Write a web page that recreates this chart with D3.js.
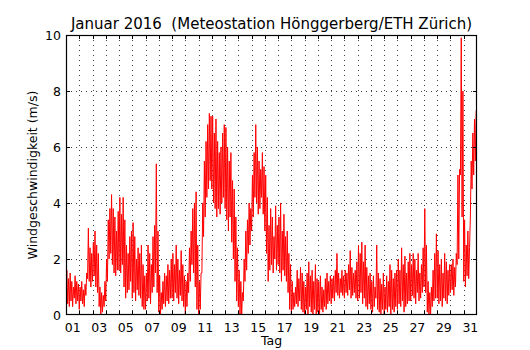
<!DOCTYPE html>
<html>
<head>
<meta charset="utf-8">
<script src="https://cdn.jsdelivr.net/npm/d3@7/dist/d3.min.js"></script>
<style>
  body { margin: 0; background: #fff; }
  text { font-family: "DejaVu Sans", sans-serif; fill: #000; white-space: pre; }
</style>
</head>
<body>
<div id="graph"></div>
<script>
var titleText = "Januar 2016  (Meteostation Hönggerberg/ETH Zürich)";
var xLabel = "Tag";
var yLabel = "Windgeschwindigkeit (m/s)";
var dayLabels = ["01","03","05","07","09","11","13","15","17","19","21","23","25","27","29","31"];
var yTicks = [0, 2, 4, 6, 8, 10];

// wind speed, 3-hour bins (8 per day): upper and lower values
var windHi = [
  1.6, 1.3, 1.5, 1.2, 1.0, 1.4, 1.2, 1.1,   // 01
  1.0, 1.2, 0.9, 1.1, 1.5, 3.1, 2.4, 2.2,   // 02
  2.6, 3.0, 2.5, 2.2, 1.0, 0.8, 0.7, 1.2,   // 03
  2.0, 3.4, 3.8, 4.3, 3.8, 3.5, 3.0, 3.7,   // 04
  4.2, 3.6, 4.2, 3.4, 2.5, 2.2, 2.8, 3.0,   // 05
  3.3, 2.8, 2.0, 2.4, 2.2, 2.5, 1.8, 1.4,   // 06
  1.5, 2.5, 2.2, 1.8, 2.8, 3.2, 5.4, 3.0,   // 07
  1.4, 0.8, 1.2, 1.5, 1.4, 1.8, 1.6, 2.0,   // 08
  2.2, 1.8, 2.5, 2.0, 1.6, 2.3, 1.8, 1.4,   // 09
  1.2, 1.5, 2.4, 3.0, 3.8, 4.0, 4.4, 2.5,   // 10
  1.2, 1.5, 4.0, 5.5, 6.2, 6.8, 7.2, 7.1,   // 11
  7.1, 6.5, 7.0, 6.2, 5.8, 6.0, 6.5, 6.8,   // 12
  6.7, 6.0, 5.5, 5.8, 4.8, 4.5, 3.5, 2.4,   // 13
  1.6, 1.2, 0.8, 2.0, 3.0, 3.4, 4.0, 3.8,   // 14
  5.0, 5.8, 6.8, 6.0, 5.5, 5.2, 5.8, 5.3,   // 15
  5.0, 4.2, 3.2, 3.8, 3.5, 2.8, 3.9, 3.2,   // 16
  3.5, 4.0, 3.0, 3.6, 2.8, 3.0, 2.2, 1.8,   // 17
  1.2, 0.8, 1.0, 1.6, 1.3, 1.7, 1.5, 1.2,   // 18
  1.0, 1.5, 1.9, 1.4, 1.6, 1.2, 1.8, 1.3,   // 19
  1.2, 1.4, 1.0, 0.9, 1.3, 1.5, 1.2, 1.4,   // 20
  1.3, 1.4, 1.6, 2.2, 1.5, 1.3, 1.6, 1.4,   // 21
  1.6, 1.5, 1.8, 2.3, 1.7, 1.5, 1.6, 1.9,   // 22
  2.5, 2.2, 2.6, 1.9, 2.5, 1.7, 1.4, 1.5,   // 23
  1.2, 1.4, 1.0, 2.5, 1.5, 1.3, 1.1, 1.5,   // 24
  1.0, 1.4, 1.2, 1.8, 1.6, 1.3, 1.5, 1.6,   // 25
  2.0, 1.6, 2.4, 1.8, 2.1, 1.5, 1.9, 2.2,   // 26
  1.8, 2.2, 2.0, 1.6, 2.2, 1.5, 1.8, 2.4,   // 27
  3.8, 2.5, 1.2, 0.8, 1.0, 1.6, 2.2, 2.9,   // 28
  2.3, 1.8, 2.0, 1.5, 2.2, 1.9, 1.6, 1.8,   // 29
  1.8, 2.0, 1.7, 2.2, 5.0, 5.2, 9.9, 8.0,   // 30
  3.4, 2.5, 3.0, 2.4, 5.5, 6.5, 7.0, 7.3    // 31
];
var windLo = [
  0.2, 0.4, 0.3, 0.5, 0.3, 0.6, 0.4, 0.5,   // 01
  0.2, 0.5, 0.4, 0.3, 0.7, 1.3, 1.2, 1.0,   // 02
  1.2, 1.4, 1.0, 0.8, 0.3, 0.0, 0.1, 0.3,   // 03
  0.5, 1.2, 2.0, 2.2, 1.8, 1.5, 1.4, 1.6,   // 04
  1.6, 1.5, 1.8, 1.0, 0.6, 0.8, 0.9, 1.2,   // 05
  0.6, 0.8, 0.5, 0.9, 0.7, 0.6, 0.3, 0.2,   // 06
  0.2, 0.5, 0.6, 0.4, 0.8, 1.0, 1.5, 0.8,   // 07
  0.1, 0.0, 0.2, 0.4, 0.3, 0.5, 0.4, 0.6,   // 08
  0.6, 0.5, 0.8, 0.6, 0.4, 0.7, 0.5, 0.3,   // 09
  0.0, 0.3, 0.8, 1.2, 1.8, 1.5, 1.0, 0.2,   // 10
  0.0, 0.2, 1.5, 2.8, 3.5, 4.2, 4.5, 4.8,   // 11
  4.5, 4.0, 3.8, 3.5, 3.8, 3.6, 4.0, 4.2,   // 12
  3.8, 3.4, 3.0, 3.5, 2.6, 2.0, 1.2, 0.5,   // 13
  0.3, 0.0, 0.0, 0.5, 1.2, 1.6, 2.2, 2.5,   // 14
  3.0, 3.5, 4.2, 4.0, 3.6, 3.8, 4.2, 3.6,   // 15
  3.0, 2.2, 1.2, 1.6, 1.8, 1.5, 2.0, 1.6,   // 16
  1.8, 1.5, 1.2, 1.6, 1.4, 1.2, 0.8, 0.2,   // 17
  0.0, 0.2, 0.3, 0.4, 0.3, 0.5, 0.2, 0.1,   // 18
  0.0, 0.2, 0.0, 0.3, 0.1, 0.0, 0.2, 0.0,   // 19
  0.1, 0.0, 0.2, 0.1, 0.3, 0.2, 0.4, 0.5,   // 20
  0.4, 0.6, 0.5, 0.8, 0.7, 0.6, 0.8, 0.7,   // 21
  0.6, 0.8, 0.7, 0.9, 0.6, 0.7, 0.8, 0.6,   // 22
  0.5, 0.6, 0.8, 0.4, 0.6, 0.3, 0.2, 0.4,   // 23
  0.2, 0.1, 0.3, 0.6, 0.2, 0.1, 0.0, 0.2,   // 24
  0.0, 0.2, 0.1, 0.3, 0.0, 0.2, 0.1, 0.3,   // 25
  0.2, 0.4, 0.3, 0.5, 0.1, 0.3, 0.4, 0.5,   // 26
  0.5, 0.7, 0.6, 0.4, 0.8, 0.5, 0.6, 0.8,   // 27
  1.0, 0.8, 0.1, 0.0, 0.0, 0.3, 0.5, 0.6,   // 28
  0.6, 0.4, 0.5, 0.3, 0.6, 0.5, 0.4, 0.7,   // 29
  0.8, 0.9, 0.7, 1.0, 1.8, 2.0, 5.0, 3.5,   // 30
  1.2, 1.0, 1.4, 1.3, 3.5, 4.5, 5.0, 5.5    // 31
];

var margin = {top: 35, right: 53, bottom: 35, left: 66},
    width = 530 - margin.left - margin.right,
    height = 350 - margin.top - margin.bottom;

var svg = d3.select('#graph').html('')
    .append("svg")
    .attr("width", 530)
    .attr("height", 350);

var g = svg.append("g")
    .attr("transform", "translate(" + margin.left + "," + margin.top + ")");

// x in days since Jan 1 00:00
var x = d3.scaleLinear().domain([0, 31]).range([0, width]);
var y = d3.scaleLinear().domain([0, 10]).range([height, 0]);

// series: each bin gives a low then a high reading
var binsPerDay = 8;
var series = [];
windHi.forEach(function (hi, i) {
    var t = i / binsPerDay;
    series.push({t: t, v: windLo[i]});
    series.push({t: t + 0.5 / binsPerDay, v: hi});
});

svg.append("defs").append("clipPath").attr("id", "clip")
    .append("rect").attr("width", width).attr("height", height);

// dotted grid
var gridDays = d3.range(1, 31);
var gridVals = yTicks.filter(function (d) { return d > 0 && d < 10; });

g.selectAll(".vgrid").data(gridDays).enter().append("line")
    .attr("x1", function (d) { return Math.round(x(d)) + 0.5; })
    .attr("x2", function (d) { return Math.round(x(d)) + 0.5; })
    .attr("y1", 0).attr("y2", height)
    .attr("stroke", "#000").attr("stroke-opacity", 0.75).attr("stroke-width", 1)
    .attr("stroke-dasharray", "1,4");

g.selectAll(".hgrid").data(gridVals).enter().append("line")
    .attr("y1", function (d) { return Math.round(y(d)) + 0.5; })
    .attr("y2", function (d) { return Math.round(y(d)) + 0.5; })
    .attr("x1", 0).attr("x2", width)
    .attr("stroke", "#000").attr("stroke-opacity", 0.75).attr("stroke-width", 1)
    .attr("stroke-dasharray", "1,4");

// the line
var line = d3.line()
    .x(function (d) { return x(d.t); })
    .y(function (d) { return y(d.v); });

g.append("path")
    .datum(series)
    .attr("clip-path", "url(#clip)")
    .attr("fill", "none")
    .attr("stroke", "#ff0000")
    .attr("stroke-width", 1)
    .attr("d", line);

// inward ticks on all sides
var tl = 4;
gridDays.forEach(function (d) {
    var px = Math.round(x(d)) + 0.5;
    g.append("line").attr("x1", px).attr("x2", px).attr("y1", height).attr("y2", height - tl).attr("stroke", "#000");
    g.append("line").attr("x1", px).attr("x2", px).attr("y1", 0).attr("y2", tl).attr("stroke", "#000");
});
gridVals.forEach(function (d) {
    var py = Math.round(y(d)) + 0.5;
    g.append("line").attr("y1", py).attr("y2", py).attr("x1", 0).attr("x2", tl).attr("stroke", "#000");
    g.append("line").attr("y1", py).attr("y2", py).attr("x1", width).attr("x2", width - tl).attr("stroke", "#000");
});

// frame
g.append("rect")
    .attr("x", 0.5).attr("y", 0.5)
    .attr("width", width - 1).attr("height", height - 1)
    .attr("fill", "none").attr("stroke", "#000").attr("stroke-width", 1.2);

// tick labels
g.selectAll(".ylab").data(yTicks).enter().append("text")
    .attr("x", -5)
    .attr("y", function (d) { return y(d); })
    .attr("dy", "0.36em")
    .attr("text-anchor", "end")
    .attr("font-size", "12.5px")
    .text(function (d) { return d; });

g.selectAll(".xlab").data(dayLabels).enter().append("text")
    .attr("x", function (d) { return x(+d - 0.5); })
    .attr("y", height + 17)
    .attr("text-anchor", "middle")
    .attr("font-size", "12.5px")
    .text(function (d) { return d; });

// axis titles
g.append("text")
    .attr("x", width / 2).attr("y", height + 30)
    .attr("text-anchor", "middle")
    .attr("font-size", "12.5px")
    .text(xLabel);

g.append("text")
    .attr("transform", "translate(-34," + (height / 2) + ") rotate(-90)")
    .attr("dy", "0.36em")
    .attr("text-anchor", "middle")
    .attr("font-size", "12.5px")
    .text(yLabel);

svg.append("text")
    .attr("x", margin.left + width / 2).attr("y", 29)
    .attr("text-anchor", "middle")
    .attr("font-size", "15px")
    .attr("xml:space", "preserve")
    .text(titleText);
</script>
</body>
</html>
